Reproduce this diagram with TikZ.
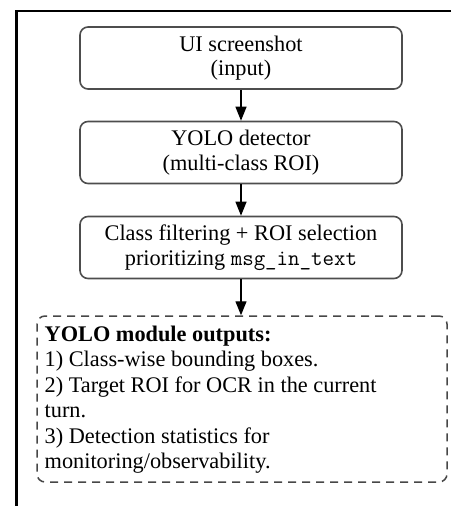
\documentclass[tikz,border=0pt]{standalone}
\usepackage{fontspec}
\setmainfont{Liberation Serif}
\usetikzlibrary{arrows.meta}
\definecolor{boxline}{HTML}{4D4D4D}
\definecolor{dashline}{HTML}{474747}
\tikzset{
  stagebox/.style={draw=boxline, line width=1.6pt, rounded corners=8pt,
    minimum width=322pt, minimum height=62pt, align=center,
    inner sep=0pt, font=\fontsize{22.3}{24.6}\selectfont},
  outbox/.style={draw=dashline, line width=1.5pt, rounded corners=8pt,
    dash pattern=on 8pt off 6pt, minimum width=410pt, minimum height=166pt,
    inner sep=0pt},
  outtext/.style={align=left, inner sep=0pt, anchor=north west,
    font=\fontsize{22.3}{25.5}\selectfont},
  flow/.style={draw=black, line width=1.3pt,
    -{Triangle[length=14pt, width=11pt]}},
  frameline/.style={draw=black, line width=2.6pt}
}
\begin{document}
\begin{tikzpicture}[x=1pt, y=-1pt]
  \useasboundingbox (0,0) rectangle (451,506);
  % outer frame (left and top edges)
  \coordinate (fr) at (451,11);
  \coordinate (fc) at (16.5,11);
  \coordinate (fb) at (16.5,506);
  \draw[frameline] (fr) -- (fc) -- (fb);

  % pipeline stages
  \node[stagebox] (input) at (241,58) {UI screenshot\\(input)};
  \node[stagebox] (yolo) at (241,152.5) {YOLO detector\\(multi-class ROI)};
  \node[stagebox] (select) at (241,247.5) {Class filtering + ROI selection\\prioritizing \texttt{msg\_in\_text}};

  % outputs
  \node[outbox] (out) at (242,399) {};
  \node[outtext] (outlist) at (44.5,325.5) {%
    \textbf{YOLO module outputs:}\\
    1) Class-wise bounding boxes.\\
    2) Target ROI for OCR in the current\\
    turn.\\
    3) Detection statistics for\\
    monitoring/observability.};

  % connectors
  \draw[flow] (input.south) -- (yolo.north);
  \draw[flow] (yolo.south) -- (select.north);
  \draw[flow] (select.south) -- (select.south |- out.north);
\end{tikzpicture}
\end{document}
